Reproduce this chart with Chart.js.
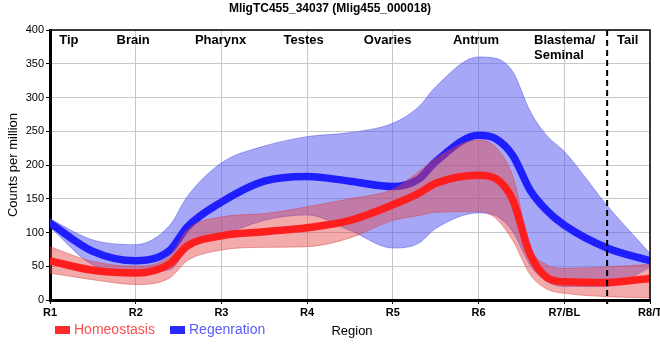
<!DOCTYPE html>
<html>
<head>
<meta charset="utf-8">
<script src="https://cdn.jsdelivr.net/npm/chart.js@4.4.1/dist/chart.umd.min.js"></script>
<style>
  html, body { margin: 0; padding: 0; background: #fff; }
</style>
</head>
<body>
<canvas id="chart" width="660" height="360"></canvas>
<script>
// positions along the body (1 = R1 ... 8 = R8/T)
const xPos = [1, 1.5, 2, 2.4, 2.6, 3, 3.5, 4, 4.5, 5, 5.3, 5.5, 6, 6.2, 6.4, 6.6, 6.8, 7, 7.5, 8];
const tickLabels = ["R1", "R2", "R3", "R4", "R5", "R6", "R7/BL", "R8/T"];

const homeMean = [58, 44, 40, 54, 80, 95, 101, 107, 118, 141, 158, 173, 185, 180, 148, 68, 33, 27, 26, 32];
const homeLow  = [40, 30, 23, 33, 58, 74, 78, 79, 92, 118, 125, 130, 131, 121, 88, 38, 16, 10, 5, 3];
const homeHigh = [79, 57, 50, 66, 104, 123, 128, 138, 150, 164, 190, 210, 237, 226, 183, 80, 52, 47, 49, 53];

const regenMean = [114, 72, 58, 74, 108, 145, 176, 183, 176, 168, 179, 205, 244, 239, 214, 163, 132, 111, 77, 58];
const regenLow  = [108, 52, 42, 45, 75, 95, 118, 126, 103, 77, 84, 106, 129, 125, 101, 52, 27, 20, 20, 48];
const regenHigh = [120, 89, 82, 111, 153, 203, 228, 242, 248, 262, 286, 316, 360, 358, 338, 280, 243, 220, 140, 69];

const regionNames = ["Tip", "Brain", "Pharynx", "Testes", "Ovaries", "Antrum", "Tail"];
const regionAt = [1.22, 1.97, 2.99, 3.96, 4.94, 5.97, 7.74];
const tailStart = 7.5;

function pts(arr) {
  return arr.map((v, i) => ({ x: xPos[i], y: v }));
}

const overlay = {
  id: "overlay",
  afterDatasetsDraw(chart) {
    const ctx = chart.ctx;
    const a = chart.chartArea;
    const x = chart.scales.x;
    ctx.save();
    // dashed tail boundary
    ctx.strokeStyle = "#000";
    ctx.lineWidth = 2;
    ctx.setLineDash([6, 4]);
    ctx.beginPath();
    ctx.moveTo(x.getPixelForValue(tailStart), a.top);
    ctx.lineTo(x.getPixelForValue(tailStart), a.bottom + 4);
    ctx.stroke();
    ctx.setLineDash([]);
    // top / right frame
    ctx.lineWidth = 1.5;
    ctx.beginPath();
    ctx.moveTo(a.left, a.top);
    ctx.lineTo(a.right, a.top);
    ctx.lineTo(a.right, a.bottom);
    ctx.stroke();
    // region names
    ctx.fillStyle = "#000";
    ctx.font = "bold 13px 'Liberation Sans', Arial, sans-serif";
    ctx.textAlign = "center";
    ctx.textBaseline = "middle";
    regionNames.forEach((n, i) => {
      ctx.fillText(n, x.getPixelForValue(regionAt[i]), a.top + 10);
    });
    ctx.textAlign = "left";
    ctx.fillText("Blastema/", x.getPixelForValue(6.647), a.top + 10);
    ctx.fillText("Seminal", x.getPixelForValue(6.647), a.top + 25);
    ctx.restore();
  },
  afterDraw(chart) {
    const ctx = chart.ctx;
    ctx.save();
    ctx.textBaseline = "middle";
    ctx.font = "bold 12px 'Liberation Sans', Arial, sans-serif";
    ctx.fillStyle = "#000";
    ctx.textAlign = "center";
    ctx.fillText("MligTC455_34037 (Mlig455_000018)", 330, 9);
    // legend
    ctx.font = "14px 'Liberation Sans', Arial, sans-serif";
    ctx.textAlign = "left";
    ctx.fillStyle = "#ff2a2a";
    ctx.fillRect(55, 326, 15, 8);
    ctx.fillStyle = "#ff4d4d";
    ctx.fillText("Homeostasis", 74, 330);
    ctx.fillStyle = "#2a2aff";
    ctx.fillRect(170, 326, 15, 8);
    ctx.fillStyle = "#5a5aff";
    ctx.fillText("Regenration", 189, 330);
    ctx.fillStyle = "#000";
    ctx.font = "13px 'Liberation Sans', Arial, sans-serif";
    ctx.textAlign = "center";
    ctx.fillText("Region", 352, 331);
    ctx.restore();
  }
};

const bandLine = { pointRadius: 0, borderWidth: 1, cubicInterpolationMode: "monotone" };

new Chart(document.getElementById("chart"), {
  type: "line",
  data: {
    datasets: [
      Object.assign({ label: "homeLow", data: pts(homeLow), borderColor: "rgba(215,60,60,0.45)", fill: false, order: 2 }, bandLine),
      Object.assign({ label: "homeHigh", data: pts(homeHigh), borderColor: "rgba(215,60,60,0.45)", backgroundColor: "rgba(227,67,67,0.45)", fill: 0, order: 2 }, bandLine),
      { label: "Homeostasis", data: pts(homeMean), borderColor: "#ff1e1e", borderWidth: 7.5, pointRadius: 0, fill: false, order: 1, cubicInterpolationMode: "monotone" },
      Object.assign({ label: "regenLow", data: pts(regenLow), borderColor: "rgba(70,70,235,0.45)", fill: false, order: 4 }, bandLine),
      Object.assign({ label: "regenHigh", data: pts(regenHigh), borderColor: "rgba(70,70,235,0.45)", backgroundColor: "rgba(80,80,240,0.5)", fill: 3, order: 4 }, bandLine),
      { label: "Regenration", data: pts(regenMean), borderColor: "#1e1eff", borderWidth: 7.5, pointRadius: 0, fill: false, order: 3, cubicInterpolationMode: "monotone" }
    ]
  },
  options: {
    responsive: false,
    animation: false,
    layout: { padding: { top: 30, right: 10, left: 0, bottom: 0 } },
    plugins: {
      legend: { display: false },
      title: { display: false },
      tooltip: { enabled: false }
    },
    scales: {
      x: {
        type: "linear",
        min: 1,
        max: 8,
        afterFit(s) { s.height = 60; s.paddingLeft = 0; s.paddingRight = 0; },
        ticks: {
          stepSize: 1,
          padding: 2,
          maxRotation: 0,
          autoSkip: false,
          color: "#000",
          font: { family: "'Liberation Sans', Arial, sans-serif", size: 11, weight: "bold" },
          callback: (v) => tickLabels[v - 1]
        },
        grid: { color: "#c8c8c8", tickColor: "#000", tickLength: 4 },
        border: { color: "#000", width: 3 }
      },
      y: {
        min: 0,
        max: 400,
        afterFit(s) { s.width = 50; s.paddingTop = 0; s.paddingBottom = 0; },
        ticks: {
          stepSize: 50,
          padding: 2,
          color: "#000",
          font: { family: "'Liberation Sans', Arial, sans-serif", size: 11 }
        },
        grid: { color: "#c8c8c8", tickColor: "#000", tickLength: 4 },
        border: { color: "#000", width: 3 },
        title: {
          display: true,
          text: "Counts per million",
          color: "#000",
          padding: { top: 6, bottom: 0 },
          font: { family: "'Liberation Sans', Arial, sans-serif", size: 13 }
        }
      }
    }
  },
  plugins: [overlay]
});
</script>
</body>
</html>
